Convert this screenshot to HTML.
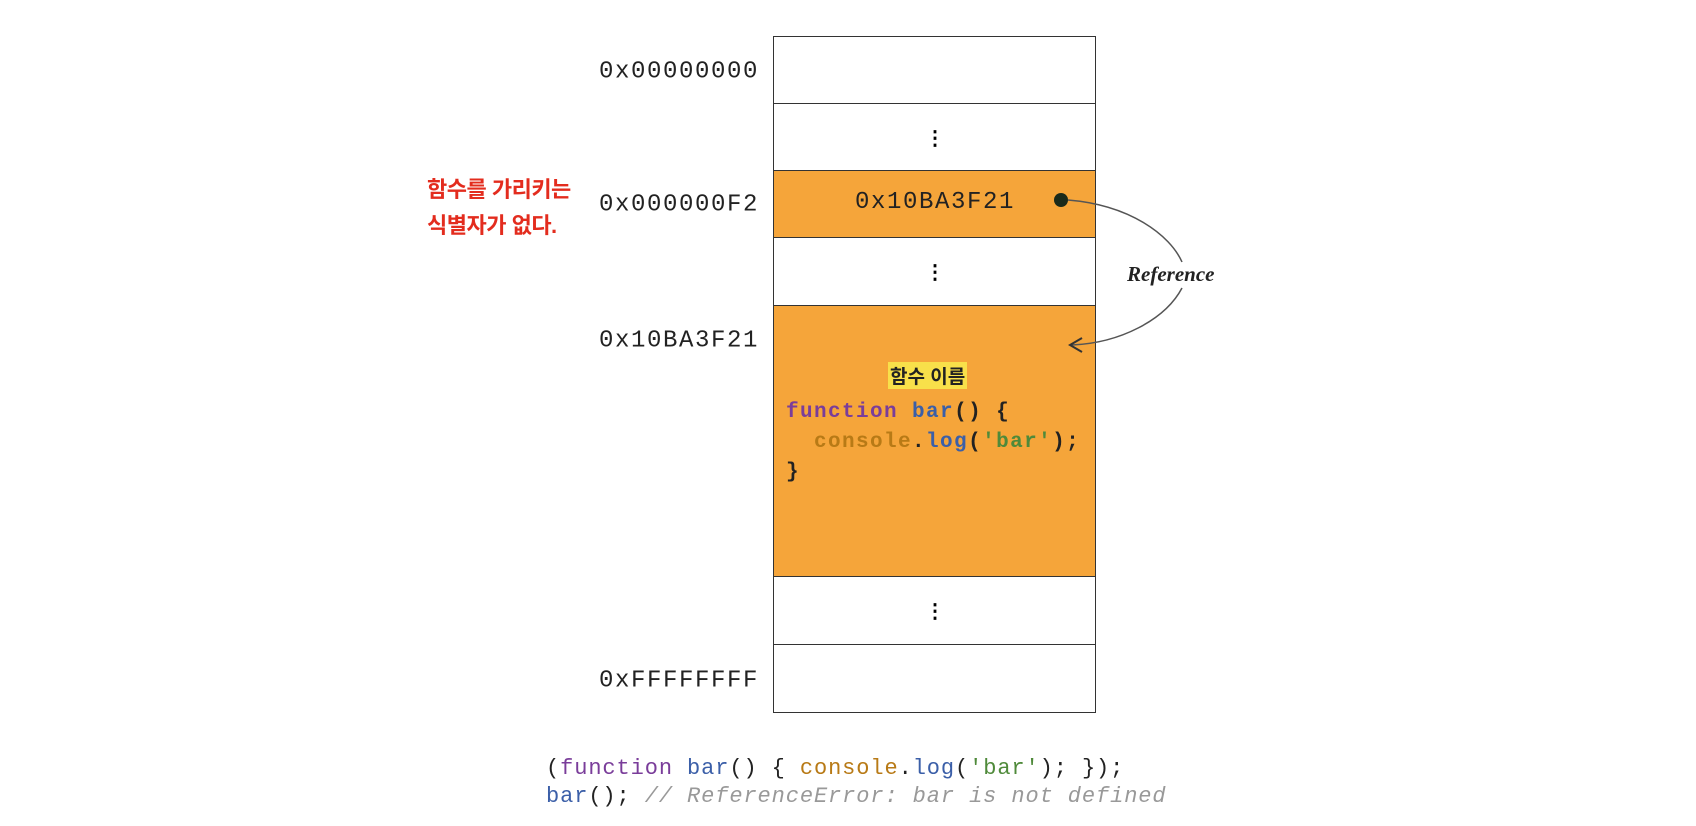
<!DOCTYPE html>
<html><head><meta charset="utf-8"><style>
body{margin:0;width:1696px;height:826px;background:#fff;position:relative;overflow:hidden;font-family:"Liberation Mono","DejaVu Sans Mono",monospace}
.t{position:absolute;white-space:pre}
.lbl{font-size:24px;letter-spacing:1.6px;color:#222;right:937px;transform:translateY(-50%)}
.row{position:absolute;left:773px;width:323px;border:1.5px solid #333;box-sizing:border-box}
.dots{position:absolute;left:925px;font-size:20px;font-weight:bold;transform:translateY(-50%);font-family:"Liberation Sans",sans-serif}
.kw{color:#7a3d9a}.fn{color:#3b5fa8}.cs{color:#b87a16}.st{color:#4f8a3a}.cm{color:#999;font-style:italic}
</style></head><body>
<div class="row" style="top:36px;height:69px;background:#fff"></div>
<div class="row" style="top:103px;height:69px;background:#fff"></div>
<div class="row" style="top:170px;height:69px;background:#f5a53a"></div>
<div class="row" style="top:237px;height:70px;background:#fff"></div>
<div class="row" style="top:305px;height:273px;background:#f5a53a"></div>
<div class="row" style="top:576px;height:70px;background:#fff"></div>
<div class="row" style="top:644px;height:69px;background:#fff"></div>

<div class="t lbl" style="top:72px">0x00000000</div>
<div class="t lbl" style="top:205px">0x000000F2</div>
<div class="t lbl" style="top:341px">0x10BA3F21</div>
<div class="t lbl" style="top:681px">0xFFFFFFFF</div>

<div class="t" style="left:427px;top:172px;font-family:'Liberation Sans','Noto Sans CJK KR',sans-serif;font-weight:bold;font-size:22px;color:#e32c1e;line-height:36px;letter-spacing:-0.5px">함수를 가리키는
식별자가 없다.</div>

<div class="dots" style="top:138px">⋮</div>
<div class="dots" style="top:272px">⋮</div>
<div class="dots" style="top:611px">⋮</div>

<div class="t" style="left:855px;top:189px;font-size:24px;letter-spacing:1.6px;color:#222">0x10BA3F21</div>

<svg class="t" style="left:0;top:0" width="1696" height="826">
<circle cx="1061" cy="200" r="7" fill="#1a2a1a"/>
<path d="M1068 200 C1130 205 1170 235 1182 262" fill="none" stroke="#555" stroke-width="1.5"/>
<path d="M1182 288 C1165 320 1120 343 1072 345" fill="none" stroke="#555" stroke-width="1.5"/>
<path d="M1082 338 L1070 345 L1082 352" fill="none" stroke="#333" stroke-width="2"/>
</svg>
<div class="t" style="left:1127px;top:262px;font-family:'Liberation Serif',serif;font-style:italic;font-weight:bold;font-size:21px;color:#222">Reference</div>

<div class="t" style="left:888px;top:362px;font-family:'Liberation Sans','Noto Sans CJK KR',sans-serif;font-weight:bold;font-size:19px;background:#f8e04a;padding:0 2px;color:#222">함수 이름</div>
<div class="t" style="left:786px;top:398px;font-size:21px;letter-spacing:1.4px;font-weight:bold;line-height:30px;color:#222"><span class="kw">function</span> <span class="fn">bar</span>() {
  <span class="cs">console</span>.<span class="fn">log</span>(<span class="st">'bar'</span>);
}</div>

<div class="t" style="left:546px;top:755px;font-size:22px;letter-spacing:0.9px;line-height:28px;color:#222">(<span class="kw">function</span> <span class="fn">bar</span>() { <span class="cs">console</span>.<span class="fn">log</span>(<span class="st">'bar'</span>); });
<span class="fn">bar</span>(); <span class="cm">// ReferenceError: bar is not defined</span></div>
</body></html>
